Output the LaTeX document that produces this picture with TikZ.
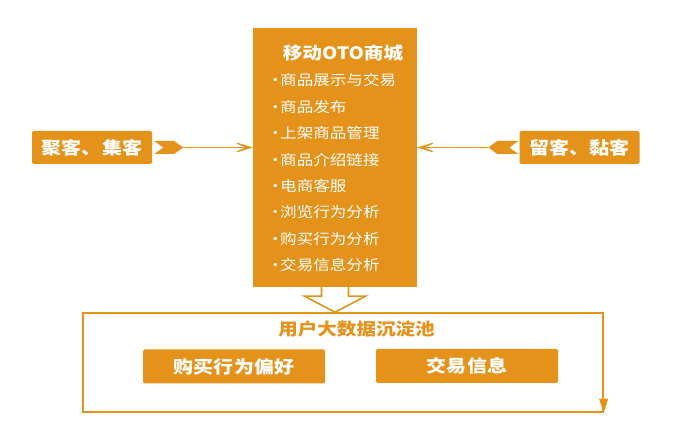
\documentclass[tikz,border=0pt]{standalone}
\usepackage{fontspec}
\newfontfamily\cjk[FakeStretch=1.15]{Noto Sans CJK SC}
\usetikzlibrary{arrows.meta, positioning}
\definecolor{mallorange}{RGB}{228,146,26}
\newcommand{\bul}{\makebox[13pt][l]{·}}
\tikzstyle{mallbox} = [rectangle, fill=mallorange, minimum width=164pt, minimum height=259pt, inner sep=0pt]
\tikzstyle{mallhead} = [text=white, inner sep=0pt, font=\cjk\bfseries\fontsize{17}{17}\selectfont]
\tikzstyle{item} = [anchor=west, text=white, inner sep=0pt, text height=11pt, text depth=2pt, font=\cjk\fontsize{14.4}{15}\selectfont]
\tikzstyle{sidebox} = [rectangle, rounded corners=2pt, fill=mallorange, text=white, minimum width=120pt, minimum height=33pt, font=\cjk\bfseries\fontsize{17.4}{18}\selectfont]
\tikzstyle{databox} = [rectangle, rounded corners=1.5pt, fill=mallorange, text=white, minimum width=182pt, minimum height=34pt, font=\cjk\bfseries\fontsize{17.4}{18}\selectfont]
\tikzstyle{pool} = [rectangle, draw=mallorange, line width=1.3pt, minimum width=520pt, minimum height=99pt]
\tikzstyle{pooltitle} = [text=mallorange, inner sep=0pt, font=\cjk\bfseries\fontsize{17}{17}\selectfont]
\tikzstyle{arrow} = [draw=mallorange, line width=1.1pt, -{Stealth[open, length=26pt, width=16pt, inset=19pt, line width=1.1pt]}]
\tikzstyle{tail} = [fill=mallorange]
\tikzstyle{hollow} = [draw=mallorange, line width=1.6pt, fill=white, line join=miter]

\begin{document}
\begin{tikzpicture}[x=1pt, y=-1pt]
    \useasboundingbox (0,0) rectangle (680,443);

    \node [mallbox] (mall) at (335,157.5) {};
    \node [mallhead] (title) at (343,53) {移动OTO商城};
    \node [item] (i1) at (267,81.5) {\bul 商品展示与交易};
    \node [item, below=26.4pt of i1.west, anchor=west] (i2) {\bul 商品发布};
    \node [item, below=26.4pt of i2.west, anchor=west] (i3) {\bul 上架商品管理};
    \node [item, below=26.4pt of i3.west, anchor=west] (i4) {\bul 商品介绍链接};
    \node [item, below=26.4pt of i4.west, anchor=west] (i5) {\bul 电商客服};
    \node [item, below=26.4pt of i5.west, anchor=west] (i6) {\bul 浏览行为分析};
    \node [item, below=26.4pt of i6.west, anchor=west] (i7) {\bul 购买行为分析};
    \node [item, below=26.4pt of i7.west, anchor=west] (i8) {\bul 交易信息分析};

    \node [sidebox] (gather) at (92,147.5) {聚客、集客};
    \node [sidebox] (retain) at (579.5,147.5) {留客、黏客};

    \node [pool] (pool) at (343,362.5) {};
    \node [pooltitle] (ptitle) at (356.5,329) {用户大数据沉淀池};
    \node [databox] (pref) at (234,366.5) {购买行为偏好};
    \node [databox] (trade) at (467,366) {交易信息};

    % side arrows
    \fill [tail] ([xshift=2pt,yshift=6.5pt]gather.east) -- ++(20,0) -- ++(9,6.5) -- ++(-9,6.5) -- ++(-20,0) -- ++(9,-6.5) -- cycle;
    \draw [arrow, shorten <=30pt] (gather.east) -- (gather.east -| mall.west);
    \fill [tail] ([xshift=-1pt,yshift=6.5pt]retain.west) -- ++(-21,0) -- ++(-9,6.5) -- ++(9,6.5) -- ++(21,0) -- ++(-9,-6.5) -- cycle;
    \draw [arrow, shorten <=31pt] (retain.west) -- (retain.west -| mall.east);

    % down into the pool
    \draw [hollow] ([xshift=-13.5pt]mall.south) -- ++(0,9) -- ++(-17,0) -- ++(30.5,16) -- ++(30.5,-16) -- ++(-17,0) -- ++(0,-9);
    \draw [draw=mallorange, line width=1.3pt, -{Triangle[length=14pt, width=9pt]}] ([yshift=22pt]pool.south east) -- (pool.south east);
\end{tikzpicture}
\end{document}
